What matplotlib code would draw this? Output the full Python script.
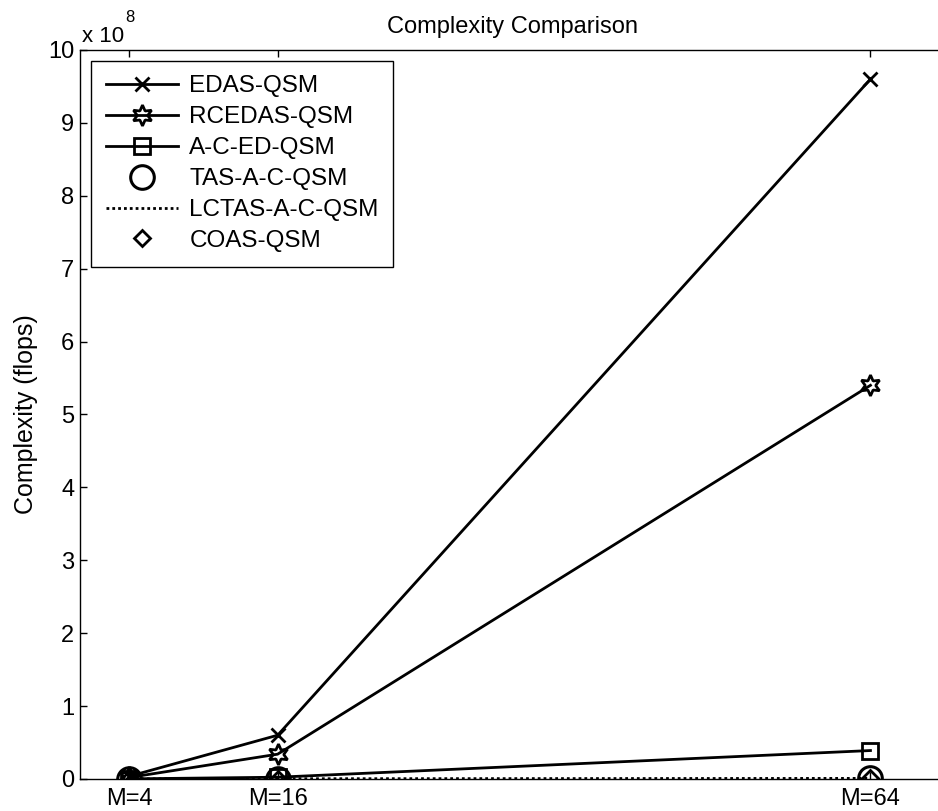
import numpy as np
import matplotlib.pyplot as plt
from matplotlib.ticker import FuncFormatter

# data (flops)
M = [4, 16, 64]
m_labels = ['M=4', 'M=16', 'M=64']
edas = [3.75e6, 6.0e7, 9.6e8]
rcedas = [2.1e6, 3.4e7, 5.4e8]
aced = [1.5e5, 2.4e6, 3.9e7]
tas = [1.0e5, 6.0e5, 1.5e6]
lctas = [5.0e4, 3.0e5, 8.0e5]
coas = [4.0e4, 2.5e5, 7.0e5]
y_ticks = np.arange(0, 11) * 1e8

plt.rcParams['font.family'] = ['Liberation Sans', 'DejaVu Sans']
plt.rcParams['font.size'] = 17

fig = plt.figure(figsize=(9.38, 8.11), dpi=100)
ax = fig.add_axes([0.0853, 0.0395, 0.9217, 0.8989])

ax.plot(M, edas, '-', color='k', lw=2, marker='x', ms=10, mew=2, label='EDAS-QSM')
ax.plot(M, rcedas, '-', color='k', lw=2, marker=(6, 1, 0), ms=15, mew=2,
        mfc='none', label='RCEDAS-QSM')
ax.plot(M, aced, '-', color='k', lw=2, marker='s', ms=11.5, mew=2,
        mfc='none', label='A-C-ED-QSM')
ax.plot(M, tas, linestyle='none', color='k', marker='o', ms=17, mew=2.2,
        mfc='none', label='TAS-A-C-QSM')
ax.plot(M, lctas, color='k', lw=2, linestyle=(0, (1, 1.1)), label='LCTAS-A-C-QSM')
ax.plot(M, coas, linestyle='none', color='k', marker='D', ms=8.5, mew=2,
        mfc='none', label='COAS-QSM')

ax.set_xlim(0, 70)
ax.set_ylim(0, 1e9)
ax.set_xticks(M)
ax.set_xticklabels(m_labels)
ax.set_yticks(y_ticks)
ax.yaxis.set_major_formatter(FuncFormatter(lambda v, p: f'{v / 1e8:g}'))

ax.tick_params(direction='in', length=5, width=1, top=True, right=True)
ax.tick_params(axis='x', pad=6.5)
ax.tick_params(axis='y', pad=4)
for s in ax.spines.values():
    s.set_linewidth(1)
    s.set_color('k')

ax.set_title('Complexity Comparison', pad=12, fontsize=17)
ax.set_ylabel('Complexity (flops)', labelpad=7.5, fontsize=18)

# exponent label like MATLAB
fig.text(82 / 938, 1 - 42 / 811, 'x 10', ha='left', va='baseline', fontsize=16)
fig.text(125 / 938, 1 - 22 / 811, '8', ha='left', va='baseline', fontsize=12)

leg = ax.legend(loc='upper left', borderaxespad=0.45, handlelength=3,
                handletextpad=0.45, labelspacing=0.365, fancybox=False,
                framealpha=1, edgecolor='k', borderpad=0.6, fontsize=17.5)
leg.get_frame().set_linewidth(1)

fig.savefig('out.png', dpi=100)
